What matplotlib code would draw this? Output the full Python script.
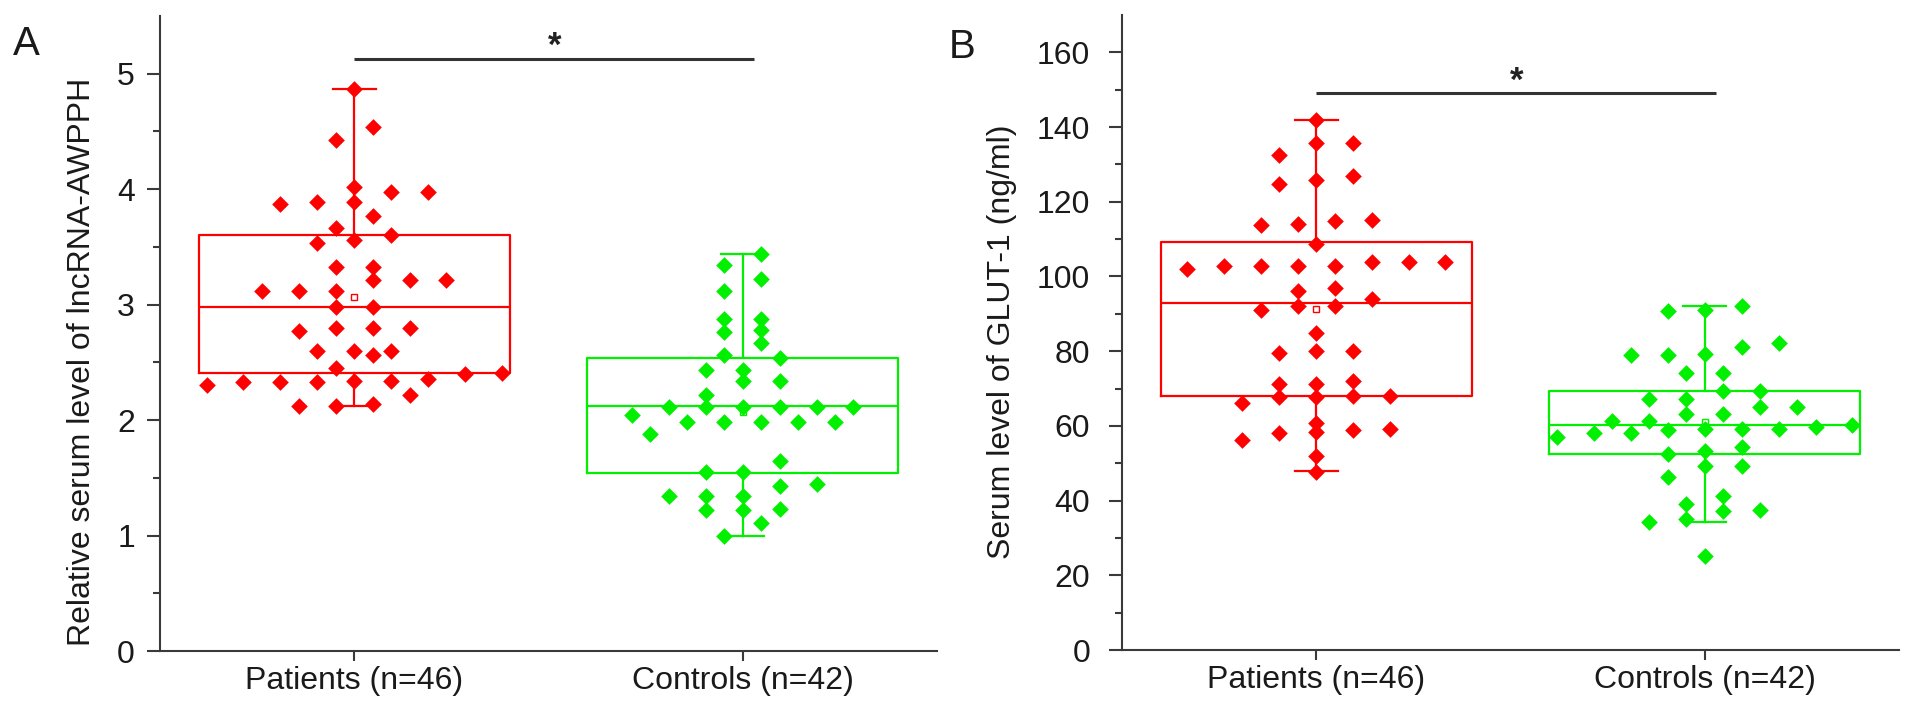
import numpy as np
import matplotlib.pyplot as plt

plt.rcParams['font.family'] = ['Liberation Sans', 'DejaVu Sans']

groups = ['Patients (n=46)', 'Controls (n=42)']

# A: relative serum lncRNA-AWPPH
awpph_patients = [4.87, 4.54, 4.43, 4.02, 3.98, 3.98, 3.89, 3.89, 3.87, 3.77,
                  3.66, 3.60, 3.53, 3.56, 3.33, 3.33, 3.21, 3.21, 3.21, 3.12,
                  3.12, 3.12, 2.98, 2.98, 2.80, 2.80, 2.80, 2.77, 2.56, 2.60,
                  2.60, 2.60, 2.45, 2.33, 2.33, 2.36, 2.41, 2.34, 2.40, 2.30,
                  2.33, 2.22, 2.12, 2.14, 2.12, 2.34]
awpph_controls = [3.44, 3.34, 3.22, 3.12, 2.88, 2.88, 2.78, 2.76, 2.67, 2.54,
                  2.56, 2.43, 2.43, 2.34, 2.34, 2.22, 2.11, 2.11, 2.11, 2.11,
                  2.11, 2.11, 2.04, 1.98, 1.98, 1.98, 1.98, 1.98, 1.88, 1.65,
                  1.55, 1.55, 1.43, 1.45, 1.34, 1.34, 1.34, 1.22, 1.23, 1.22,
                  1.11, 1.00]
# box summary: whisker low, q1, median, q3, whisker high, mean
awpph_patients_box = [2.12, 2.41, 2.98, 3.60, 4.87, 3.07]
awpph_controls_box = [1.00, 1.54, 2.12, 2.54, 3.44, 2.07]

# B: serum GLUT-1 (ng/ml)
glut_patients = [142.0, 135.7, 135.8, 132.6, 125.8, 126.9, 124.7, 114.9, 115.0, 114.0,
                 113.9, 108.6, 103.9, 103.9, 103.9, 102.8, 102.8, 102.9, 102.8, 101.9,
                 97.0, 96.1, 93.9, 91.0, 92.0, 92.0, 84.9, 80.1, 79.4, 80.1,
                 72.1, 71.2, 71.2, 67.8, 67.8, 68.0, 68.0, 66.0, 59.1, 56.2,
                 59.0, 58.0, 60.7, 58.4, 52.0, 47.7]
glut_controls = [92.1, 91.1, 90.8, 82.3, 81.2, 79.2, 78.9, 78.9, 74.2, 74.2,
                 69.4, 69.4, 67.1, 67.1, 65.1, 65.1, 63.1, 63.1, 61.4, 61.4,
                 60.2, 59.8, 59.2, 59.0, 59.1, 59.1, 58.0, 58.0, 57.1, 54.4,
                 53.2, 52.4, 49.2, 49.2, 46.2, 41.3, 39.2, 37.5, 37.2, 35.2,
                 34.3, 25.2]
glut_patients_box = [47.8, 68.0, 92.9, 109.1, 142.0, 91.4]
glut_controls_box = [34.4, 52.4, 60.2, 69.4, 92.1, 61.1]

RED = '#ff0000'
GREEN = '#00f000'
AXC = '#3a3a3a'


def row_offsets(vals, row_h, step):
    # group sorted values into rows of height row_h, spread each row sideways
    vals = np.asarray(vals, float)
    order = np.argsort(vals, kind='stable')
    offs = np.zeros(len(vals))
    rows, row, start = [], [order[0]], vals[order[0]]
    for i in order[1:]:
        if vals[i] - start < row_h:
            row.append(i)
        else:
            rows.append(row)
            row, start = [i], vals[i]
    rows.append(row)
    for r in rows:
        n = len(r)
        offs[r] = (np.arange(n) - (n - 1) / 2) * step
    return offs


def draw_panel(ax, data, boxes, ymax, major, minor, ylabel, sig_y, row_h, label_x, label_y, ypad):
    for pos, vals, box, col in zip([1, 2], data, boxes, [RED, GREEN]):
        lo, q1, med, q3, hi, mean = box
        stats = [dict(whislo=lo, q1=q1, med=med, q3=q3, whishi=hi, mean=mean, fliers=[])]
        line = dict(color=col, lw=1.6)
        ax.bxp(stats, positions=[pos], widths=0.8, capwidths=0.11, showmeans=True,
               showfliers=False, manage_ticks=False,
               boxprops=line, whiskerprops=line, capprops=line, medianprops=line,
               meanprops=dict(marker='s', markerfacecolor='none', markeredgecolor=col,
                              markersize=4.5, markeredgewidth=1.0))
        x = pos + row_offsets(vals, row_h, 0.095)
        ax.scatter(x, vals, marker='D', s=72, color=col, linewidths=0, zorder=3)

    ax.set_xlim(0.5, 2.5)
    ax.set_ylim(0, ymax)
    ax.set_yticks(np.arange(0, ymax, major))
    ax.set_yticks(np.arange(minor, ymax, major), minor=True)
    ax.set_xticks([1, 2], groups)
    for s in ['top', 'right']:
        ax.spines[s].set_visible(False)
    for s in ['left', 'bottom']:
        ax.spines[s].set_linewidth(1.5)
        ax.spines[s].set_color(AXC)
    ax.tick_params(axis='y', which='major', length=9.5, width=1.5, color=AXC,
                   labelsize=23, labelcolor='#1a1a1a', pad=ypad)
    ax.tick_params(axis='y', which='minor', length=5, width=1.5, color=AXC)
    ax.tick_params(axis='x', which='major', length=7, width=1.5, color=AXC,
                   labelsize=23, labelcolor='#1a1a1a', pad=4)
    ax.set_ylabel(ylabel, fontsize=23, color='#1a1a1a')
    ax.yaxis.set_label_coords(label_x, label_y)

    ax.plot([1, 2.03], [sig_y, sig_y], color='#333333', lw=2.2, solid_capstyle='butt',
            clip_on=False)
    ax.text(1.515, sig_y + ymax * 0.004, '*', ha='center', va='baseline',
            fontsize=25, fontweight='bold', color='#222222')


fig = plt.figure(figsize=(19.13, 7.15), dpi=100)
ax_a = fig.add_axes([0.0836, 0.0895, 0.4062, 0.8881])
ax_b = fig.add_axes([0.5865, 0.0909, 0.4062, 0.8881])

draw_panel(ax_a, [awpph_patients, awpph_controls], [awpph_patients_box, awpph_controls_box],
           5.5, 1, 0.5, 'Relative serum level of lncRNA-AWPPH', 5.13, 0.12,
           -0.081, 2.5 / 5.5, 8.5)
draw_panel(ax_b, [glut_patients, glut_controls], [glut_patients_box, glut_controls_box],
           170, 20, 10, 'Serum level of GLUT-1 (ng/ml)', 149.0, 4.0,
           -0.135, 0.485, 13.5)

fig.text(0.0136, 0.938, 'A', fontsize=29, ha='center', va='center', color='#1a1a1a')
fig.text(0.503, 0.934, 'B', fontsize=29, ha='center', va='center', color='#1a1a1a')

fig.savefig('out.png', dpi=100)
